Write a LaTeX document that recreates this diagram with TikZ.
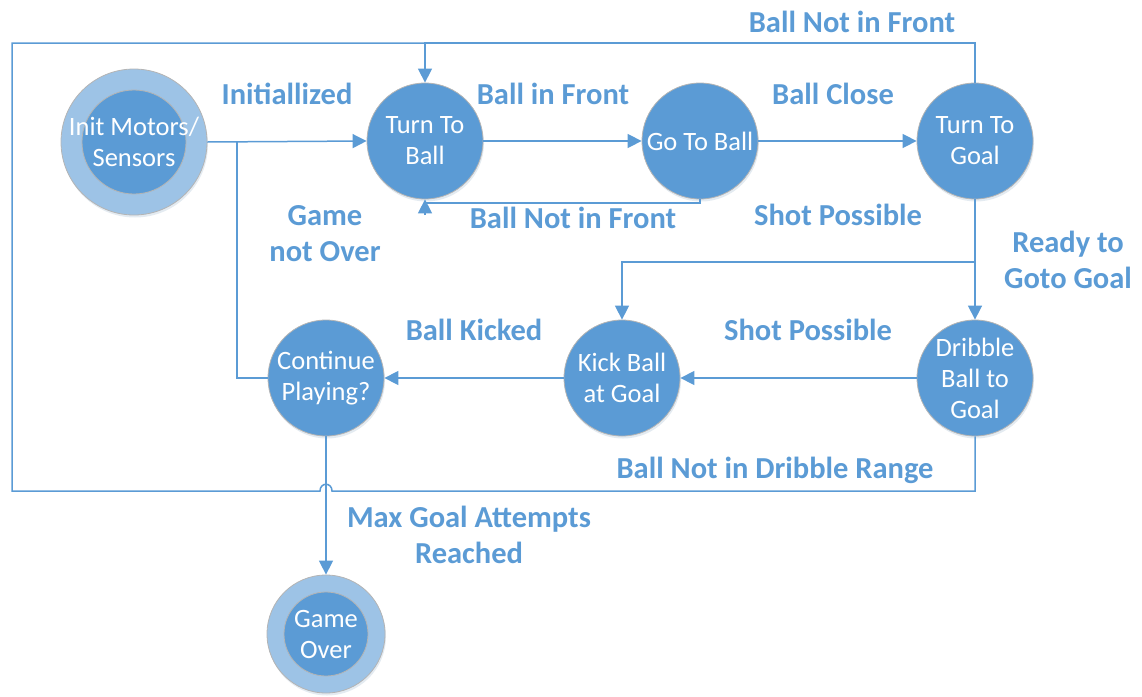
\documentclass[tikz,border=0pt]{standalone}
\usepackage{fontspec}
\setmainfont{Carlito}
\usetikzlibrary{arrows.meta,shadows}
\definecolor{nodeblue}{HTML}{5B9BD5}
\definecolor{ringblue}{HTML}{9DC3E6}
\definecolor{rimgray}{HTML}{B4B4B4}
\begin{document}
\begin{tikzpicture}[x=1pt,y=-1pt,
  softshadow/.style={drop shadow={shadow xshift=1pt, shadow yshift=-2.5pt, opacity=0.18, fill=nodeblue!60!gray}},
  statetext/.style={text=white, align=center, font=\fontsize{26.5}{31}\selectfont},
  state/.style={circle, fill=nodeblue, draw=rimgray, line width=0.8pt,
    minimum size=116pt, inner sep=0pt, statetext},
  ring/.style={circle, fill=ringblue, draw=rimgray, line width=0.8pt, inner sep=0pt},
  lbl/.style={text=nodeblue, font=\bfseries\fontsize{30.5}{36}\selectfont, align=center},
  conn/.style={draw=nodeblue, line width=1.5pt},
  tip/.style={-{Triangle[length=14pt,width=14pt]}}
]
\useasboundingbox (0,0) rectangle (1142,696);

% states
\node[ring, softshadow, minimum size=146pt] (init) at (134,142) {};
\node[state, minimum size=104pt] (initc) at (init.center) {};
\node[statetext] (initt) at (init.center) {Init Motors/\\Sensors};
\node[state, softshadow] (ttb)  at (425,141) {Turn To\\Ball};
\node[state, softshadow] (gtb)  at (700,141) {Go To Ball};
\node[state, softshadow] (ttg)  at (975,141) {Turn To\\Goal};
\node[state, softshadow] (drib) at (975,378) {Dribble\\Ball to\\Goal};
\node[state, softshadow] (kick) at (622,378) {Kick Ball\\at Goal};
\node[state, softshadow] (cont) at (326,378) {Continue\\Playing?};
\node[ring, softshadow, minimum size=118pt] (over) at (326,634) {};
\node[state, minimum size=84pt] (overc) at (over.center) {};
\node[statetext] (overt) at (over.center) {Game\\Over};

% junction and corner points
\coordinate (j1) at (237,141);
\coordinate (j2) at (425,203);
\coordinate (j3) at (425,215);
\coordinate (t1) at (425,43);
\coordinate (r1) at (975,262);
\coordinate (h1) at (332,491);
\coordinate (h2) at (320,491);
\coordinate (c2) at (12,43);

% transitions
\draw[conn,tip] (init.east) -- (ttb.west);
\draw[conn] (cont.west) -| (j1);
\draw[conn,tip] (ttb.east) -- (gtb.west);
\draw[conn] (gtb.south) |- (j2);
\draw[conn,tip] (j3) -- (ttb.south);
\draw[conn,tip] (gtb.east) -- (ttg.west);
\draw[conn,tip] (ttg.north) |- (t1) -- (ttb.north);
\draw[conn,tip] (ttg.south) -- (drib.north);
\draw[conn,tip] (r1) -| (kick.north);
\draw[conn,tip] (drib.west) -- (kick.east);
\draw[conn,tip] (kick.west) -- (cont.east);
\draw[conn,tip] (cont.south) -- (over.north);
\draw[conn] (drib.south) |- (h1) .. controls +(0,-9) and +(0,-9) .. (h2) -| (c2) -- (t1);

% transition labels
\node[lbl] (l1)  at (287,94)  {Initiallized};
\node[lbl] (l2)  at (553,94)  {Ball in Front};
\node[lbl] (l3)  at (833,94)  {Ball Close};
\node[lbl] (l4)  at (852,22)  {Ball Not in Front};
\node[lbl] (l5)  at (325,234) {Game\\not Over};
\node[lbl] (l6)  at (573,218) {Ball Not in Front};
\node[lbl] (l7)  at (838,215) {Shot Possible};
\node[lbl] (l8)  at (1068,260) {Ready to\\Goto Goal};
\node[lbl] (l9)  at (474,330) {Ball Kicked};
\node[lbl] (l10) at (808,330) {Shot Possible};
\node[lbl] (l11) at (775,470) {Ball Not in Dribble Range};
\node[lbl] (l12) at (469,535) {Max Goal Attempts\\Reached};
\end{tikzpicture}
\end{document}
